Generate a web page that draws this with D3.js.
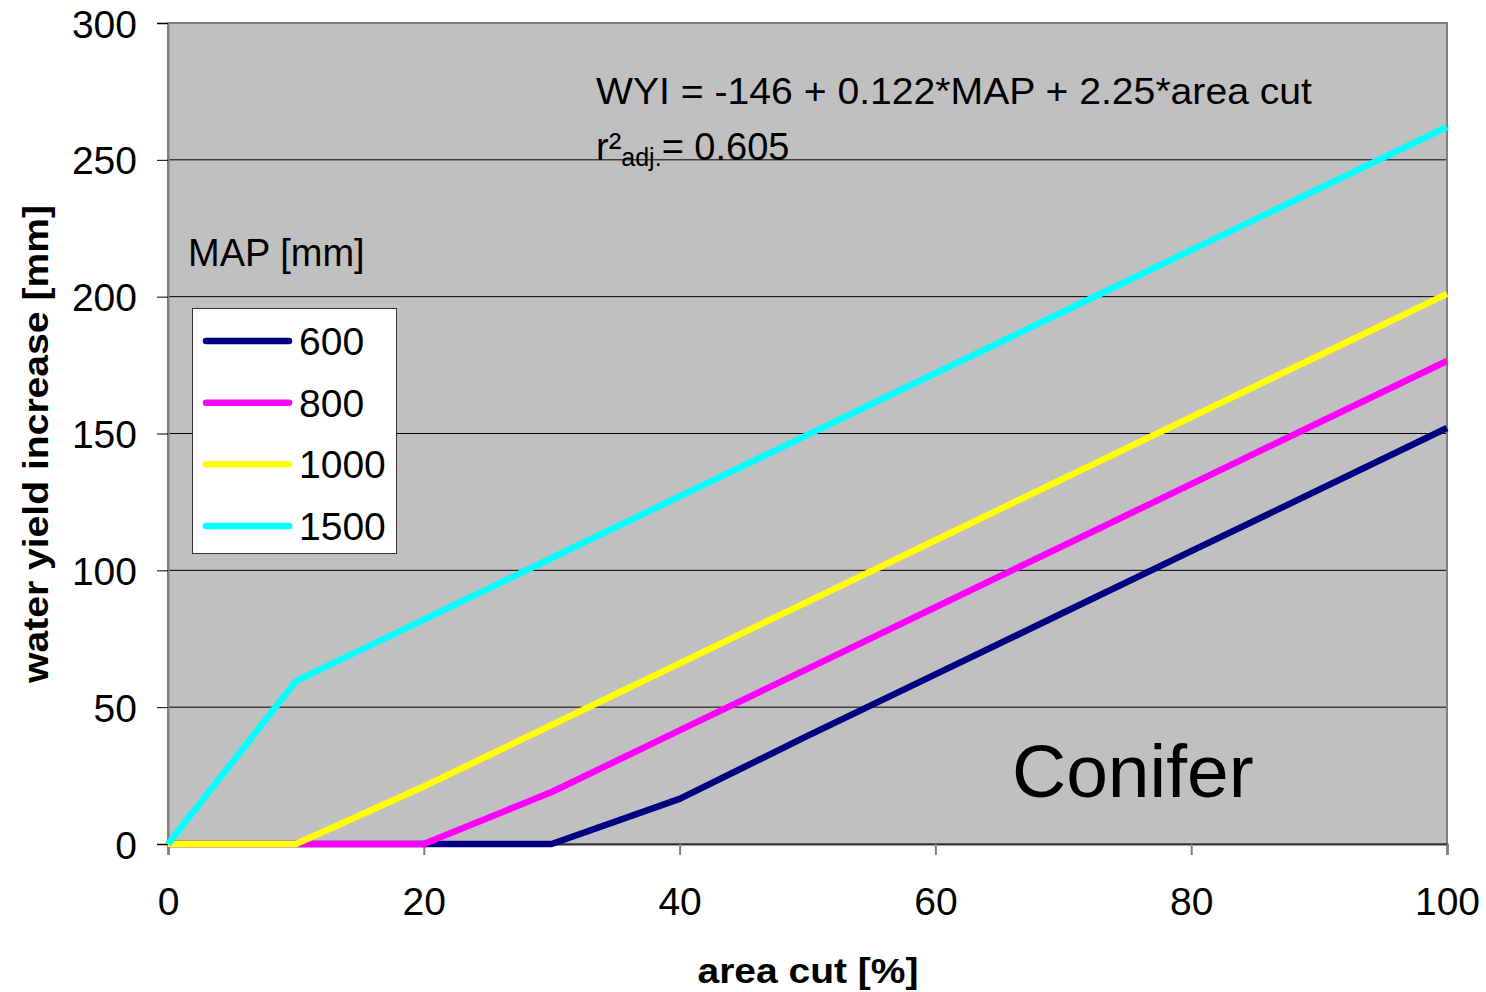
<!DOCTYPE html>
<html>
<head>
<meta charset="utf-8">
<script src="https://cdn.jsdelivr.net/npm/d3@7/dist/d3.min.js"></script>
<style>
  html, body { margin: 0; padding: 0; background: #fff; }
  svg { display: block; font-family: "Liberation Sans", Arial, sans-serif; }
</style>
</head>
<body>
<svg id="chart" width="1486" height="992"></svg>
<script>
// Area cut [%] at which water yield increase was evaluated
const areaCut = [0, 10, 20, 30, 40, 50, 60, 70, 80, 90, 100];

// Water yield increase [mm] for each mean annual precipitation (MAP) class
const wyi600  = [0, 0, 0, 0, 16.5, 39.5, 62, 84.5, 107, 129.5, 152];
const wyi800  = [0, 0, 0, 19, 41.5, 64, 86.5, 109, 131.5, 154, 176.5];
const wyi1000 = [0, 0, 21, 43.5, 66, 88.5, 111, 133.5, 156, 178.5, 201];
const wyi1500 = [0, 59.5, 82, 104.5, 127, 149.5, 172, 194.5, 217, 239.5, 262];

const seriesNames  = ["600", "800", "1000", "1500"];
const seriesValues = [wyi600, wyi800, wyi1000, wyi1500];
const seriesColors = ["#000080", "#ff00ff", "#ffff00", "#00ffff"];

const xTicks = [0, 20, 40, 60, 80, 100];
const yTicks = [0, 50, 100, 150, 200, 250, 300];

const svg = d3.select("#chart");
const plot = { left: 168, right: 1447, top: 23, bottom: 844 };

const x = d3.scaleLinear().domain([0, 100]).range([plot.left, plot.right]);
const y = d3.scaleLinear().domain([0, 300]).range([plot.bottom, plot.top]);

// Plot background
svg.append("rect")
  .attr("x", plot.left).attr("y", plot.top)
  .attr("width", plot.right - plot.left).attr("height", plot.bottom - plot.top)
  .attr("fill", "#c0c0c0");

// Horizontal gridlines
svg.append("g")
  .selectAll("line")
  .data(yTicks.filter(d => d > 0 && d < 300))
  .join("line")
  .attr("x1", plot.left).attr("x2", plot.right)
  .attr("y1", d => y(d)).attr("y2", d => y(d))
  .attr("stroke", "#000").attr("stroke-width", 1);

// Plot frame
svg.append("rect")
  .attr("x", plot.left).attr("y", plot.top)
  .attr("width", plot.right - plot.left).attr("height", plot.bottom - plot.top)
  .attr("fill", "none").attr("stroke", "#808080").attr("stroke-width", 2);

// Y axis
const yAxis = svg.append("g")
  .attr("transform", `translate(${plot.left},0)`)
  .call(d3.axisLeft(y).tickValues(yTicks).tickSize(11).tickPadding(20));
yAxis.select(".domain").attr("stroke", "#808080").attr("stroke-width", 2);
yAxis.selectAll(".tick line").attr("stroke", "#000");
yAxis.selectAll(".tick text")
  .attr("font-size", 39).attr("fill", "#000").attr("dy", "0.36em")
  .attr("font-family", "Liberation Sans, Arial, sans-serif");

// X axis
const xAxis = svg.append("g")
  .attr("transform", `translate(0,${plot.bottom})`)
  .call(d3.axisBottom(x).tickValues(xTicks).tickSize(11).tickPadding(32));
xAxis.select(".domain").attr("stroke", "#333").attr("stroke-width", 2);
xAxis.selectAll(".tick line").attr("stroke", "#808080").attr("stroke-width", 2);
xAxis.selectAll(".tick text")
  .attr("font-size", 39).attr("fill", "#000")
  .attr("font-family", "Liberation Sans, Arial, sans-serif");

// Series lines
const line = d3.line().x((d, i) => x(areaCut[i])).y(d => y(d));
svg.append("g")
  .selectAll("path")
  .data(seriesValues)
  .join("path")
  .attr("d", line)
  .attr("fill", "none")
  .attr("stroke", (d, i) => seriesColors[i])
  .attr("stroke-width", 6.5)
  .attr("stroke-linejoin", "round")
  .attr("stroke-linecap", "butt");

// Axis titles
svg.append("text")
  .attr("x", 808).attr("y", 983)
  .attr("text-anchor", "middle")
  .attr("font-size", 35).attr("font-weight", "bold")
  .attr("textLength", 221).attr("lengthAdjust", "spacingAndGlyphs")
  .text("area cut [%]");

svg.append("text")
  .attr("transform", "translate(48,444) rotate(-90)")
  .attr("text-anchor", "middle")
  .attr("font-size", 35).attr("font-weight", "bold")
  .attr("textLength", 478).attr("lengthAdjust", "spacingAndGlyphs")
  .text("water yield increase [mm]");

// Regression equation
svg.append("text")
  .attr("x", 596).attr("y", 104)
  .attr("font-size", 37)
  .attr("textLength", 716).attr("lengthAdjust", "spacingAndGlyphs")
  .text("WYI = -146 + 0.122*MAP + 2.25*area cut");

const r2 = svg.append("text").attr("x", 596).attr("y", 160).attr("font-size", 38);
r2.append("tspan").text("r²");
r2.append("tspan").attr("font-size", 25).attr("dy", 6).text("adj.");
r2.append("tspan").attr("dy", -6).text("= 0.605");

// Legend
svg.append("text")
  .attr("x", 188).attr("y", 266)
  .attr("font-size", 38)
  .text("MAP [mm]");

const legend = svg.append("g");
legend.append("rect")
  .attr("x", 192.5).attr("y", 308.5)
  .attr("width", 204).attr("height", 245)
  .attr("fill", "#fff").attr("stroke", "#333").attr("stroke-width", 1);

const rowY = d3.scalePoint().domain(seriesNames).range([341, 526]);
const rows = legend.selectAll("g.row")
  .data(seriesNames)
  .join("g")
  .attr("class", "row")
  .attr("transform", d => `translate(0,${rowY(d)})`);
rows.append("line")
  .attr("x1", 206).attr("x2", 289)
  .attr("stroke", (d, i) => seriesColors[i])
  .attr("stroke-width", 6.5)
  .attr("stroke-linecap", "round");
rows.append("text")
  .attr("x", 299).attr("y", 14)
  .attr("font-size", 39)
  .text(d => d);

// Forest type label
svg.append("text")
  .attr("x", 1012).attr("y", 797)
  .attr("font-size", 75)
  .text("Conifer");
</script>
</body>
</html>
